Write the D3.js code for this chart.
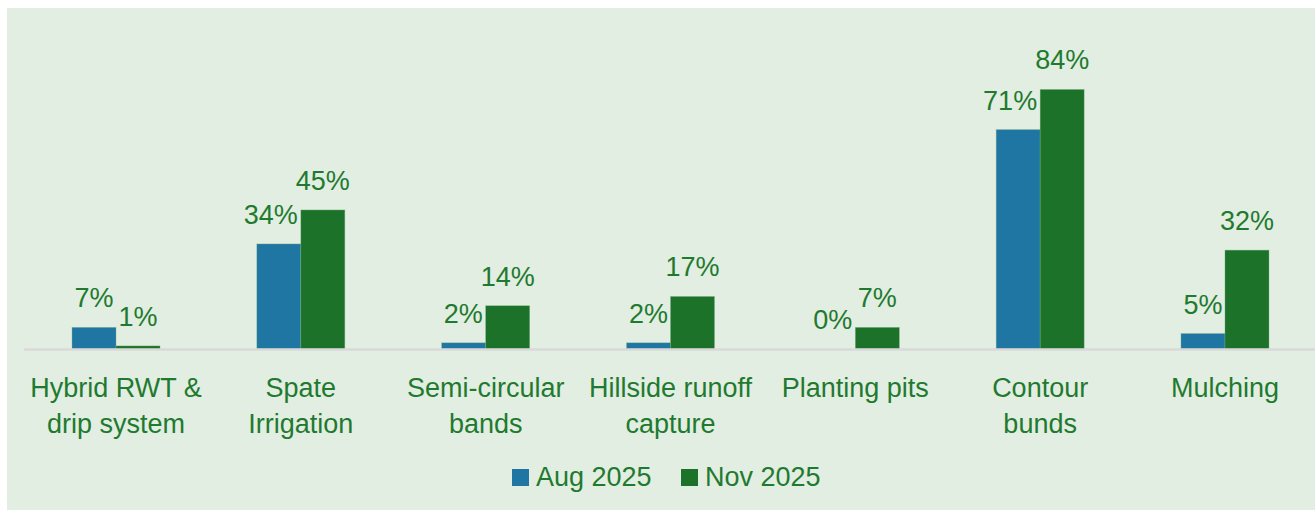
<!DOCTYPE html>
<html><head><meta charset="utf-8">
<script src="https://cdn.jsdelivr.net/npm/d3@7"></script>
<style>html,body{margin:0;padding:0;background:#fff;}svg{display:block;}</style>
</head><body>
<svg id="chart" width="1315" height="511"></svg>
<script>
const categories = [["Hybrid RWT &","drip system"],["Spate","Irrigation"],["Semi-circular","bands"],["Hillside runoff","capture"],["Planting pits"],["Contour","bunds"],["Mulching"]];
const categoryKeys = ["Hybrid RWT & drip system","Spate Irrigation","Semi-circular bands","Hillside runoff capture","Planting pits","Contour bunds","Mulching"];
const seriesNames = ["Aug 2025","Nov 2025"];
const aug2025 = [7,34,2,2,0,71,5];
const nov2025 = [1,45,14,17,7,84,32];
const colors = ["#1f76a3","#1c7229"];
const textColor = "#1f7a30";
const FONT = "'Liberation Sans', Arial, sans-serif";

const svg = d3.select("#chart");
svg.append("rect").attr("x",7).attr("y",8).attr("width",1308).attr("height",502).attr("fill","#e2eee1");

const x0 = d3.scaleBand().domain(categoryKeys).range([23.6,1317.4]).paddingInner(0).paddingOuter(0);
const innerPad = (x0.bandwidth()-88)/2;
const x1 = d3.scaleBand().domain(seriesNames).range([innerPad, innerPad+88]);
const y = d3.scaleLinear().domain([0,100]).range([349,40]);

const data = categoryKeys.map((k,i)=>({key:k, vals:[aug2025[i],nov2025[i]]}));

const g = svg.append("g");
const groups = g.selectAll("g.cat").data(data).join("g").attr("class","cat")
  .attr("transform",d=>`translate(${x0(d.key)},0)`);
groups.selectAll("rect").data(d=>d.vals.map((v,j)=>({v,s:seriesNames[j],j}))).join("rect")
  .attr("x",d=>x1(d.s)).attr("width",x1.bandwidth())
  .attr("y",d=>y(d.v)).attr("height",d=>y(0)-y(d.v))
  .attr("fill",d=>colors[d.j]).attr("stroke","#7fb38a").attr("stroke-width",0.6).attr("stroke-opacity",d=>d.v>0?0.6:0);
groups.selectAll("text.val").data(d=>d.vals.map((v,j)=>({v,s:seriesNames[j],j,other:d.vals[1-j]}))).join("text").attr("class","val")
  .attr("x",d=>x1(d.s)+x1.bandwidth()/2).attr("y",d=>y(d.v)-20)
  .attr("text-anchor","middle").attr("fill",textColor).attr("font-family",FONT).attr("font-size",27)
  .text(d=>d.v+"%")
  .each(function(d){
    // avoid overlapping the taller neighbouring bar (Excel-like label nudge)
    if(d.j===0 && d.other>d.v){
      const w=this.getComputedTextLength();
      const right=x1(d.s)+x1.bandwidth()/2+w/2;
      const limit=x1(d.s)+x1.bandwidth()-3;
      const otherTop=y(d.other);
      if(right>limit && y(d.v)-20-19<=otherTop+2 ? right>limit && (y(d.v)-20)>otherTop : false){
        d3.select(this).attr("x",x1(d.s)+x1.bandwidth()/2-(right-limit));
      }
    }
  });

// axis baseline
const xAxis = d3.axisBottom(x0).tickSize(0).tickFormat("");
const ax = svg.append("g").attr("transform",`translate(0,${y(0)})`).call(xAxis);
ax.select(".domain").attr("stroke","#d9d9d9").attr("stroke-width",2.5);

// category labels
const lbl = svg.append("g");
categories.forEach((lines,i)=>{
  const t = lbl.append("text").attr("x",x0(categoryKeys[i])+x0.bandwidth()/2).attr("y",396.5)
    .attr("text-anchor","middle").attr("fill",textColor).attr("font-family",FONT).attr("font-size",27);
  lines.forEach((ln,k)=>t.append("tspan").attr("x",x0(categoryKeys[i])+x0.bandwidth()/2).attr("dy",k?36:0).text(ln));
});

// legend
const legend = svg.append("g");
const legendItems = [{n:seriesNames[0],c:colors[0],x:512},{n:seriesNames[1],c:colors[1],x:681}];
legendItems.forEach(it=>{
  legend.append("rect").attr("x",it.x).attr("y",469).attr("width",17).attr("height",17).attr("fill",it.c);
  legend.append("text").attr("x",it.x+24).attr("y",485.5).attr("fill",textColor).attr("font-family",FONT).attr("font-size",27).text(it.n);
});
</script>
</body></html>
